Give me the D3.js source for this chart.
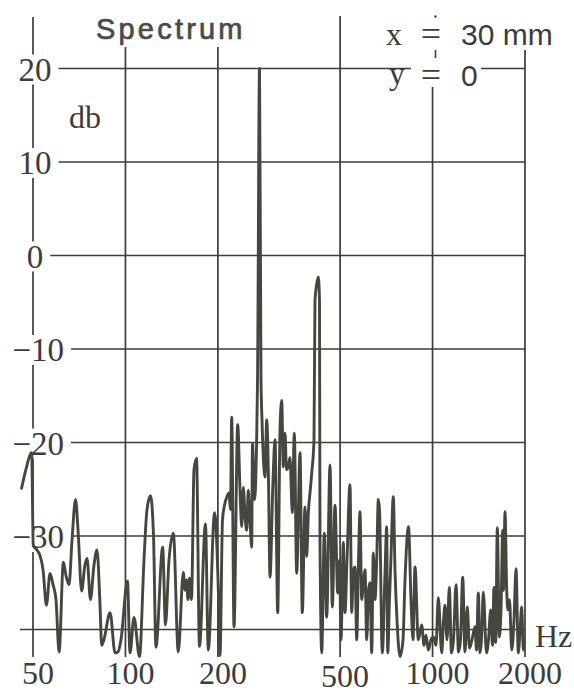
<!DOCTYPE html>
<html>
<head>
<meta charset="utf-8">
<script src="https://cdn.jsdelivr.net/npm/d3@7"></script>
<style>
  html, body { margin: 0; padding: 0; background: #fff; }
  svg { display: block; }
</style>
</head>
<body>
<script>
// Frequency axis (log) and level axis ticks
const freqTicks = [50, 100, 200, 500, 1000, 2000];
const freqLabels = ["50", "100", "200", "500", "1000", "2000"];
const dbTicks = [20, 10, 0, -10, -20, -30, -40];
const dbLabels = ["20", "10", "0", "\u221210", "\u221220", "\u221230", ""];

// Measured spectrum: frequency (Hz) and level (dB)
const freqHz = [
  45.9,47.4,49.5,50.1,51.5,52.7,53.9,55.3,56.8,58.1,
  59.4,60.8,62.8,64.0,65.5,67.0,68.8,70.1,72.0,73.8,
  75.0,76.9,79.0,80.8,82.6,83.7,85.1,89.1,92.5,94.6,
  96.7,101.5,103.5,106.6,111.1,114.9,117.5,120.7,123.4,125.7,
  132.2,135.0,138.6,143.2,148.6,154.3,156.3,158.1,159.8,161.6,
  164.1,167.2,170.4,174.2,182.2,186.1,195.0,200.9,203.2,207.0,
  210.9,214.1,217.4,219.8,221.8,225.7,232.0,236.1,239.1,242.0,
  245.1,248.2,251.2,254.4,257.7,259.2,263.2,269.2,273.2,276.3,
  278.4,282.6,284.7,288.4,291.9,295.6,302.3,306.9,313.2,318.6,
  322.7,326.6,330.8,334.5,339.1,343.4,349.4,354.7,361.1,370.2,
  376.6,384.3,389.2,394.5,399.0,404.1,411.1,414.2,418.9,424.6,
  428.4,430.0,435.6,444.1,452.2,463.5,471.6,481.2,491.1,497.7,
  503.4,512.1,518.7,526.5,538.5,545.4,552.8,559.1,566.3,574.0,
  580.5,587.9,595.9,602.6,610.4,618.6,625.6,633.7,641.3,649.5,
  657.9,665.8,671.8,686.1,700.1,709.1,714.4,724.1,732.3,745.1,
  754.6,766.0,783.5,801.3,813.4,835.0,850.8,863.7,876.7,898.7,
  910.2,921.9,937.9,952.1,968.7,988.5,1005.7,1026.2,1044.1,1071.0,
  1085.6,1097.9,1114.5,1133.8,1152.7,1170.1,1192.3,1214.8,1233.2,1253.7,
  1275.5,1297.7,1319.2,1344.2,1374.8,1390.3,1409.2,1427.3,1443.4,1463.1,
  1498.6,1521.2,1546.5,1567.5,1585.3,1605.6,1625.0,1649.5,1670.7,1692.1,
  1702.3,1721.6,1743.7,1760.7,1780.7,1810.3,1841.8,1869.6,1902.1,1926.5,
  1951.2,1974.8,1985.2
];
const levelDb = [
  -24.9,-22.9,-21.1,-31.0,-31.5,-32.1,-33.6,-37.4,-34.0,-35.2,
  -36.8,-42.4,-32.8,-34.2,-35.2,-30.4,-26.1,-29.4,-35.9,-33.1,
  -32.4,-36.8,-33.1,-31.5,-37.2,-41.7,-41.1,-38.2,-42.5,-42.4,
  -41.1,-34.8,-42.5,-38.7,-42.9,-32.6,-27.2,-25.7,-29.9,-41.9,
  -31.2,-39.5,-32.6,-29.7,-42.4,-33.9,-35.8,-34.7,-36.8,-34.5,
  -36.8,-22.9,-21.7,-41.8,-28.7,-42.2,-27.5,-36.4,-42.8,-28.3,
  -26.5,-25.8,-25.4,-27.2,-17.3,-39.7,-18.1,-25.1,-29.0,-24.8,
  -27.8,-29.4,-25.1,-28.3,-31.2,-20.1,-26.1,-13.3,20,-13.3,
  -17.6,-22.9,-23.7,-17.6,-22.9,-34.4,-24.0,-19.7,-38.2,-18.7,
  -15.5,-22.6,-19.0,-22.9,-22.6,-21.6,-27.5,-19.0,-34.0,-21.1,
  -38.2,-26.9,-32.2,-27.2,-25.4,-23.3,-19.7,-4.8,-3.2,-2.3,
  -4.8,-30.4,-42.5,-29.7,-38.7,-22.4,-37.6,-26.7,-36.1,-32.6,
  -41.1,-30.7,-38.2,-32.6,-24.5,-38.2,-33.6,-33.3,-41.1,-32.6,
  -27.4,-36.8,-34.7,-33.6,-41.1,-35.8,-35.0,-42.5,-31.8,-36.8,
  -32.6,-26.1,-27.2,-42.5,-34.0,-29.0,-42.5,-36.8,-32.2,-25.8,
  -33.6,-39.0,-42.9,-41.1,-34.7,-29.0,-36.8,-41.1,-33.3,-41.1,
  -40.3,-39.5,-41.7,-40.6,-42.2,-41.1,-40.8,-41.7,-36.6,-42.5,
  -39.0,-37.4,-41.1,-35.5,-42.5,-41.1,-35.2,-42.4,-41.1,-34.4,
  -42.4,-37.6,-42.0,-41.1,-39.7,-42.2,-36.1,-42.5,-41.1,-36.0,
  -42.5,-41.1,-37.9,-41.7,-35.5,-41.4,-29.1,-40.8,-37.9,-29.4,
  -35.8,-27.4,-35.8,-37.9,-36.8,-42.2,-39.0,-33.5,-42.5,-40.1,
  -37.6,-42.2,-41.1
];

const W = 574, H = 693;
const INK = "#3c3c3a";
const CURVE = "#46463f";
const SERIF = "'Liberation Serif', 'Times New Roman', serif";
const SANS = "'Liberation Sans', Arial, sans-serif";

const x = d3.scaleLog().domain([50, 2000]).range([33, 525]);
const y = d3.scaleLinear().domain([-40, 20]).range([629.5, 68.5]);

// top end of each vertical rule (the rules all stop at the same bottom)
const ruleTop = {50: 17, 100: 47, 200: 47, 500: 16, 1000: 87, 2000: 50};
const ruleBottom = 657;

const svg = d3.select("body").append("svg")
  .attr("width", W).attr("height", H)
  .attr("viewBox", `0 0 ${W} ${H}`);

svg.append("rect").attr("width", W).attr("height", H).attr("fill", "#fff");

const grid = svg.append("g").attr("stroke", INK).attr("stroke-width", 1.7);

// horizontal rules
grid.selectAll("line.h").data(dbTicks).join("line")
  .attr("class", "h")
  .attr("x1", d => d === -40 ? 20 : 44)
  .attr("x2", x(2000))
  .attr("y1", d => y(d)).attr("y2", d => y(d));

// vertical rules
grid.selectAll("line.v").data(freqTicks).join("line")
  .attr("class", "v")
  .attr("x1", d => x(d)).attr("x2", d => x(d))
  .attr("y1", d => ruleTop[d]).attr("y2", ruleBottom);

// level labels sit on white plates that interrupt the rules behind them
const yLab = svg.append("g");
const plates = yLab.append("g");
const yText = yLab.append("g").selectAll("text")
  .data(dbTicks.map((d, i) => ({v: d, t: dbLabels[i]})).filter(d => d.t))
  .join("text")
  .attr("x", d => d.v < 0 ? 64 : 35)
  .attr("y", d => y(d.v) + 12)
  .attr("text-anchor", d => d.v < 0 ? "end" : "middle")
  .attr("font-family", SERIF).attr("font-size", 33)
  .attr("fill", INK)
  .text(d => d.t);
yText.each(function(d) {
  const b = this.getBBox();
  const base = y(d.v) + 12;
  plates.append("rect")
    .attr("x", b.x - 3).attr("width", b.width + 10)
    .attr("y", base - 26).attr("height", 30)
    .attr("fill", "#fff");
});

// frequency labels
svg.append("g").selectAll("text").data(freqTicks.map((d, i) => ({v: d, t: freqLabels[i]})))
  .join("text")
  .attr("x", d => x(d.v) + 5)
  .attr("y", d => d.v === 500 ? 687 : 684)
  .attr("text-anchor", "middle")
  .attr("font-family", SERIF).attr("font-size", 32)
  .attr("fill", INK)
  .text(d => d.t);

svg.append("text").attr("x", 535).attr("y", 647)
  .attr("font-family", SERIF).attr("font-size", 32).attr("fill", INK).text("Hz");

svg.append("text").attr("x", 69).attr("y", 128)
  .attr("font-family", SERIF).attr("font-size", 32).attr("fill", INK).text("db");

svg.append("text").attr("x", 96).attr("y", 39)
  .attr("font-family", SANS).attr("font-size", 29).attr("letter-spacing", 3.2)
  .attr("fill", "#4a4a48").attr("stroke", "#4a4a48").attr("stroke-width", 0.7)
  .text("Spectrum");

// position of the measuring point
const pos = svg.append("g").attr("fill", INK);
pos.append("rect").attr("x", 411).attr("y", 58).attr("width", 70).attr("height", 28).attr("fill", "#fff");
pos.append("text").attr("x", 386).attr("y", 45).attr("font-family", SERIF).attr("font-size", 32).text("x");
pos.append("text").attr("x", 431).attr("y", 46).attr("text-anchor", "middle")
  .attr("font-family", SERIF).attr("font-size", 36).text("=");
pos.append("circle").attr("cx", 435.5).attr("cy", 16.5).attr("r", 1.2);
pos.append("text").attr("x", 461).attr("y", 45).attr("font-family", SANS).attr("font-size", 30).text("30 mm");
pos.append("text").attr("x", 389).attr("y", 84).attr("font-family", SERIF).attr("font-size", 32).text("y");
pos.append("text").attr("x", 431).attr("y", 87).attr("text-anchor", "middle")
  .attr("font-family", SERIF).attr("font-size", 36).text("=");
pos.append("line").attr("x1", 435.5).attr("x2", 435.5).attr("y1", 50).attr("y2", 58)
  .attr("stroke", INK).attr("stroke-width", 1.6);
pos.append("text").attr("x", 461).attr("y", 86).attr("font-family", SANS).attr("font-size", 30).text("0");

// spectrum trace
const pts = freqHz.map((f, i) => [f, levelDb[i]]);
const line = d3.line()
  .x(d => x(d[0]))
  .y(d => y(d[1]))
  .curve(d3.curveMonotoneX);

svg.append("path")
  .attr("d", line(pts))
  .attr("fill", "none")
  .attr("stroke", CURVE)
  .attr("stroke-width", 2.9)
  .attr("stroke-linejoin", "round")
  .attr("stroke-linecap", "round");
</script>
</body>
</html>
